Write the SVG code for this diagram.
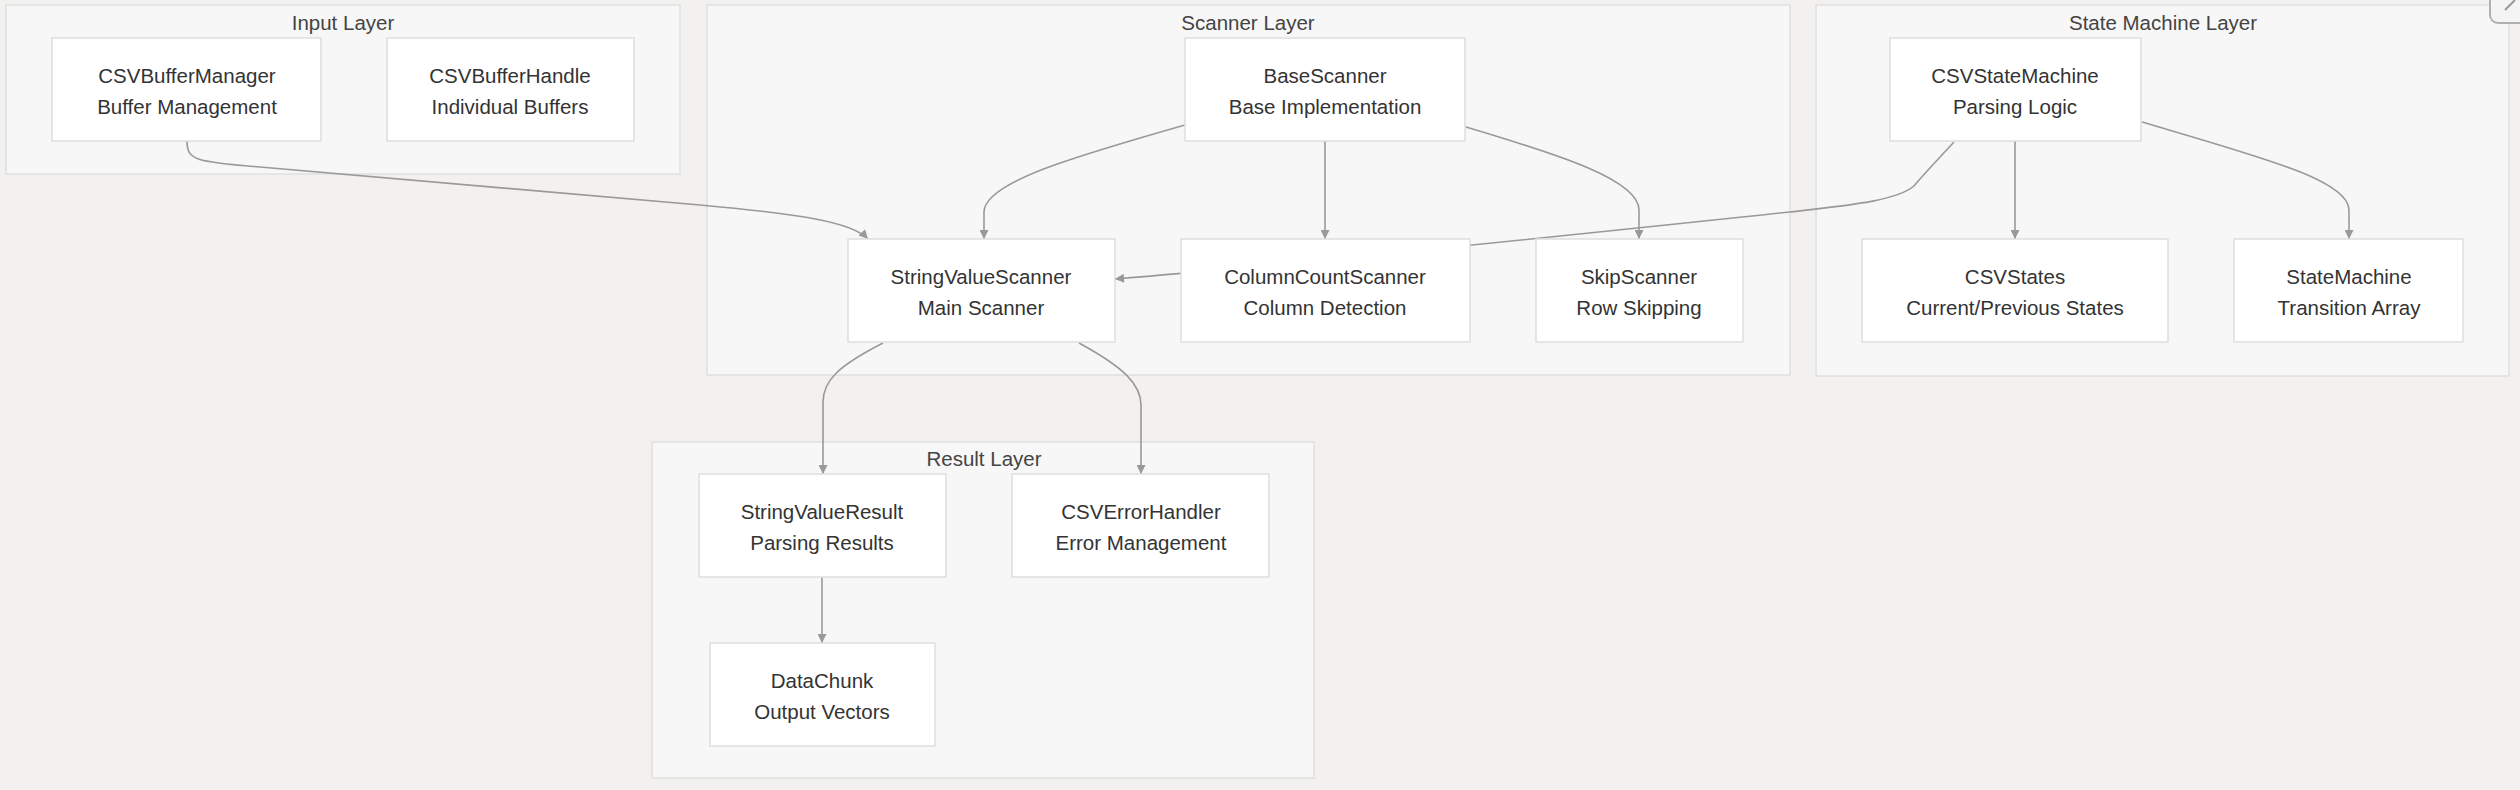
<svg xmlns="http://www.w3.org/2000/svg" width="2520" height="790" viewBox="0 0 2520 790">
<style>
.bg{fill:#f2f1ef}
.cluster{fill:#f7f7f7;stroke:#e0e0e0;stroke-width:1.5}
.ctitle{font-family:"Liberation Sans",Arial,sans-serif;font-size:20.5px;fill:#444;text-anchor:middle;dominant-baseline:central}
.node rect{fill:#ffffff;stroke:#dedede;stroke-width:1.5}
.node text{font-family:"Liberation Sans",Arial,sans-serif;font-size:20.5px;fill:#333;text-anchor:middle;dominant-baseline:central}
.edge{fill:none;stroke:#999;stroke-width:1.6}
</style>
<defs>
<marker id="arrow" viewBox="0 0 10 10" refX="10" refY="5" markerUnits="userSpaceOnUse" markerWidth="10" markerHeight="9" orient="auto">
<path d="M0,0 L10,5 L0,10 z" fill="#999"/>
</marker>
</defs>
<rect class="bg" x="0" y="0" width="2520" height="790"/>

<g id="clusters">
<g id="cluster-input">
<rect class="cluster" x="6" y="5" width="674" height="169"/>
<text class="ctitle" x="343" y="22">Input Layer</text>
</g>
<g id="cluster-scanner">
<rect class="cluster" x="707" y="5" width="1083" height="370"/>
<text class="ctitle" x="1248" y="22">Scanner Layer</text>
</g>
<g id="cluster-statemachine">
<rect class="cluster" x="1816" y="5" width="693" height="371"/>
<text class="ctitle" x="2163" y="22">State Machine Layer</text>
</g>
<g id="cluster-result">
<rect class="cluster" x="652" y="442" width="662" height="336"/>
<text class="ctitle" x="984" y="458">Result Layer</text>
</g>
</g>

<g id="connectors">
<path class="edge" marker-end="url(#arrow)" d="M187,141 C187,160 195,162 260,167 L700,205 C800,214 852,222 868,239"/>
<path class="edge" marker-end="url(#arrow)" d="M1185,125 C1080,155 984,182 984,212 L984,239"/>
<path class="edge" marker-end="url(#arrow)" d="M1325,141 L1325,239"/>
<path class="edge" marker-end="url(#arrow)" d="M1466,127 C1560,155 1639,180 1639,210 L1639,239"/>
<path class="edge" marker-end="url(#arrow)" d="M1954,142 C1930,168 1922,176 1914,186 C1895,202 1840,206 1790,212 C1600,232 1300,264 1115,279"/>
<path class="edge" marker-end="url(#arrow)" d="M2015,141 L2015,239"/>
<path class="edge" marker-end="url(#arrow)" d="M2142,122 C2260,157 2349,180 2349,210 L2349,239"/>
<path class="edge" marker-end="url(#arrow)" d="M883,343 C840,365 823,380 823,402 L823,474"/>
<path class="edge" marker-end="url(#arrow)" d="M1079,343 C1125,368 1141,385 1141,405 L1141,474"/>
<path class="edge" marker-end="url(#arrow)" d="M822,577 L822,643"/>
</g>

<g id="node-CSVBufferManager" class="node">
<rect x="52" y="38" width="269" height="103"/>
<text x="187" y="75">CSVBufferManager</text>
<text x="187" y="106">Buffer Management</text>
</g>
<g id="node-CSVBufferHandle" class="node">
<rect x="387" y="38" width="247" height="103"/>
<text x="510" y="75">CSVBufferHandle</text>
<text x="510" y="106">Individual Buffers</text>
</g>
<g id="node-BaseScanner" class="node">
<rect x="1185" y="38" width="280" height="103"/>
<text x="1325" y="75">BaseScanner</text>
<text x="1325" y="106">Base Implementation</text>
</g>
<g id="node-StringValueScanner" class="node">
<rect x="848" y="239" width="267" height="103"/>
<text x="981" y="276">StringValueScanner</text>
<text x="981" y="307">Main Scanner</text>
</g>
<g id="node-ColumnCountScanner" class="node">
<rect x="1181" y="239" width="289" height="103"/>
<text x="1325" y="276">ColumnCountScanner</text>
<text x="1325" y="307">Column Detection</text>
</g>
<g id="node-SkipScanner" class="node">
<rect x="1536" y="239" width="207" height="103"/>
<text x="1639" y="276">SkipScanner</text>
<text x="1639" y="307">Row Skipping</text>
</g>
<g id="node-CSVStateMachine" class="node">
<rect x="1890" y="38" width="251" height="103"/>
<text x="2015" y="75">CSVStateMachine</text>
<text x="2015" y="106">Parsing Logic</text>
</g>
<g id="node-CSVStates" class="node">
<rect x="1862" y="239" width="306" height="103"/>
<text x="2015" y="276">CSVStates</text>
<text x="2015" y="307">Current/Previous States</text>
</g>
<g id="node-StateMachine" class="node">
<rect x="2234" y="239" width="229" height="103"/>
<text x="2349" y="276">StateMachine</text>
<text x="2349" y="307">Transition Array</text>
</g>
<g id="node-StringValueResult" class="node">
<rect x="699" y="474" width="247" height="103"/>
<text x="822" y="511">StringValueResult</text>
<text x="822" y="542">Parsing Results</text>
</g>
<g id="node-CSVErrorHandler" class="node">
<rect x="1012" y="474" width="257" height="103"/>
<text x="1141" y="511">CSVErrorHandler</text>
<text x="1141" y="542">Error Management</text>
</g>
<g id="node-DataChunk" class="node">
<rect x="710" y="643" width="225" height="103"/>
<text x="822" y="680">DataChunk</text>
<text x="822" y="711">Output Vectors</text>
</g>

<g id="corner-button">
<rect x="2490" y="-20" width="50" height="43" rx="8" fill="#f4f4f4" stroke="#b0b0b0" stroke-width="2"/>
<path d="M2505,10 L2515,0" fill="none" stroke="#999" stroke-width="2"/>
</g>
</svg>
